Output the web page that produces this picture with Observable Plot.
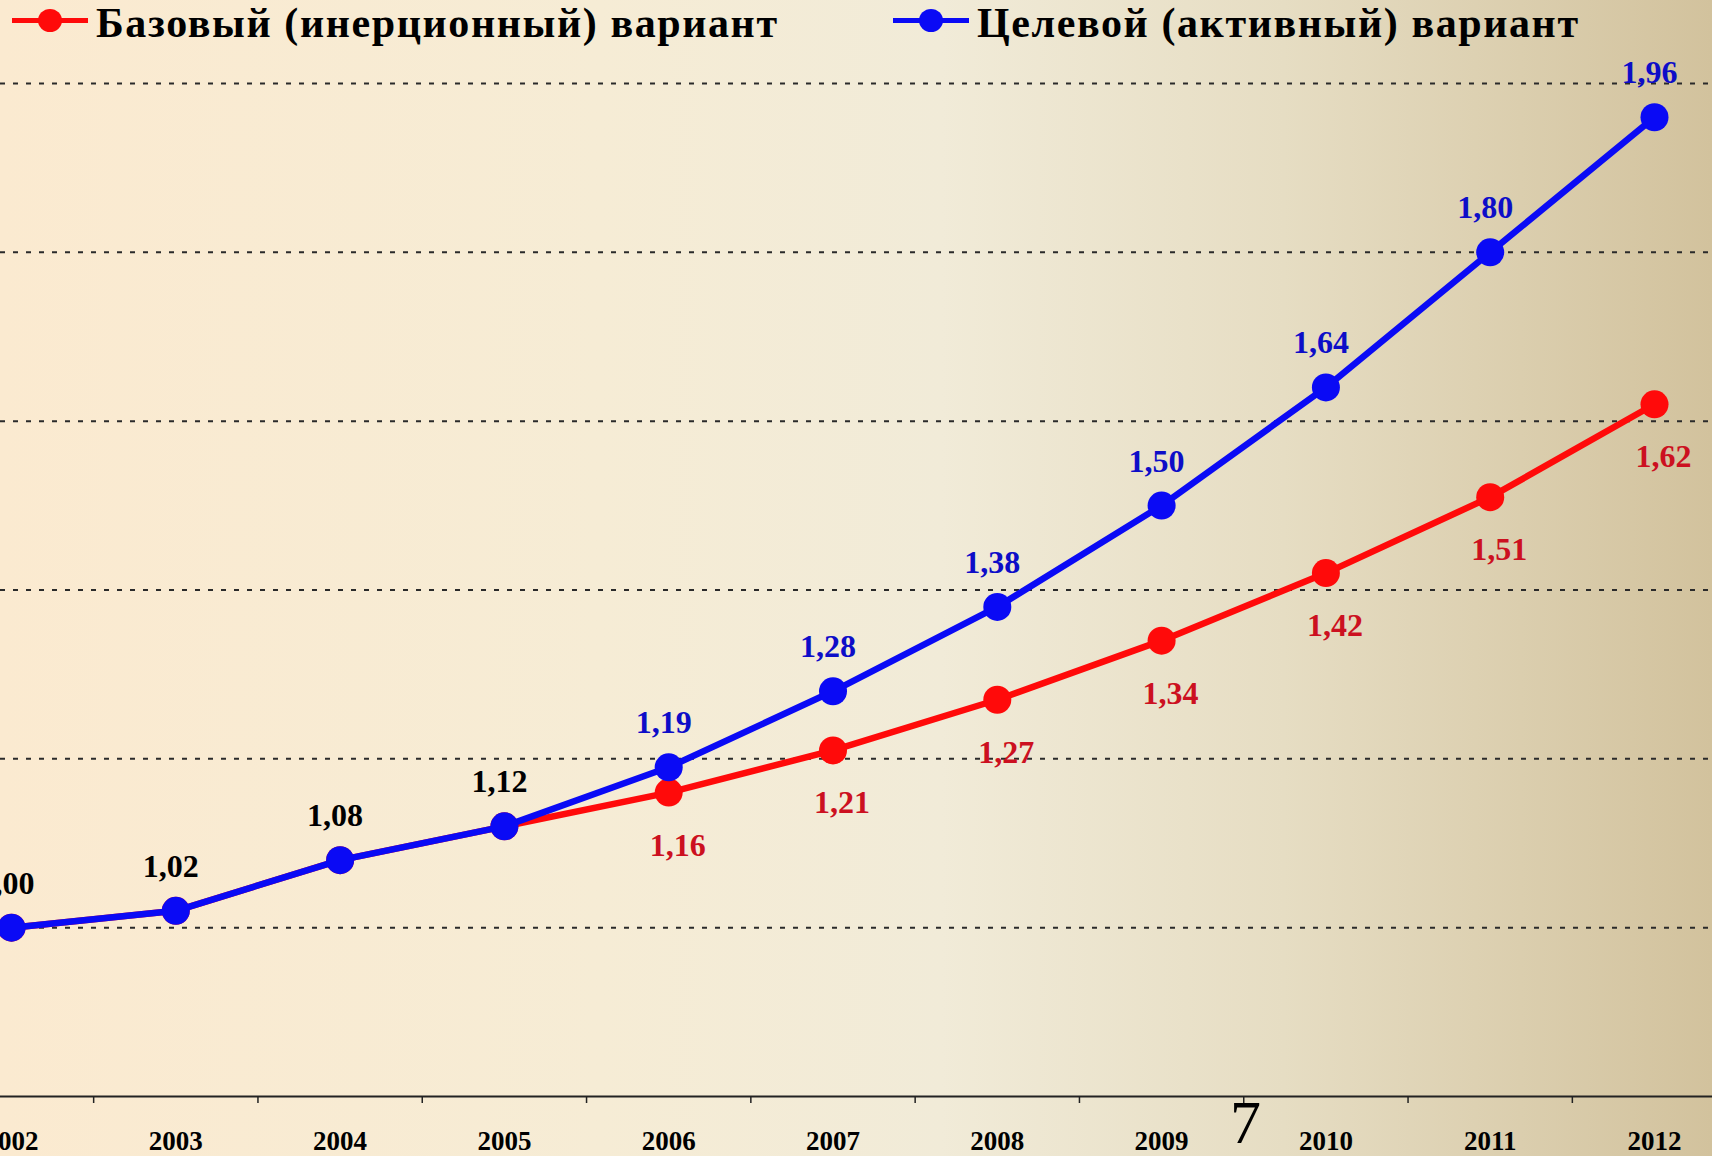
<!DOCTYPE html>
<html>
<head>
<meta charset="utf-8">
<script src="https://cdn.jsdelivr.net/npm/d3@7"></script>
<script src="https://cdn.jsdelivr.net/npm/@observablehq/plot@0.6"></script>
<style>
  html, body { margin: 0; padding: 0; }
  #page {
    position: relative; width: 1712px; height: 1156px; overflow: hidden;
    background: linear-gradient(to right, #fbead0 0%, #f6ecd5 35%, #f1ebd8 55%, #e6ddc3 75%, #d2c29d 100%);
    font-family: "Liberation Serif", "Times New Roman", serif;
  }
  #legend { position: relative; height: 48px; }
  .leg { position: absolute; top: 0; height: 48px; }
  .leg .line { position: absolute; top: 18px; height: 5px; width: 76px; left: 0; }
  .leg .dot { position: absolute; top: 9px; width: 24px; height: 23px; border-radius: 50%; left: 26px; }
  .leg .lab { position: absolute; left: 84px; top: 2px; font-size: 42px; line-height: 42px; letter-spacing: 1.6px; font-weight: bold; color: #000; white-space: nowrap; }
  #pagenum { position: absolute; left: 1230px; top: 1091px; font-size: 62px; line-height: 62px; color: #000; }
</style>
</head>
<body>
<div id="page">
  <div id="legend"></div>
  <div id="chart"></div>
  <div id="pagenum">7</div>
</div>
<script>
const years = [2002, 2003, 2004, 2005, 2006, 2007, 2008, 2009, 2010, 2011, 2012];
const baseValues = [1.00, 1.02, 1.08, 1.12, 1.16, 1.21, 1.27, 1.34, 1.42, 1.51, 1.62];
const targetValues = [1.00, 1.02, 1.08, 1.12, 1.19, 1.28, 1.38, 1.50, 1.64, 1.80, 1.96];
const sharedYears = [2002, 2003, 2004, 2005];
const gridValues = [1.0, 1.2, 1.4, 1.6, 1.8, 2.0];
const seriesNames = ["Базовый (инерционный) вариант", "Целевой (активный) вариант"];
const seriesColors = ["#ff0a0a", "#0a0af5"];
const labelColors = ["#cc1020", "#0d0dc8"];

const base = years.map((year, i) => ({year, value: baseValues[i]}));
const target = years.map((year, i) => ({year, value: targetValues[i]}));
const shared = target.filter(d => sharedYears.includes(d.year));
const baseOwn = base.filter(d => !sharedYears.includes(d.year));
const targetOwn = target.filter(d => !sharedYears.includes(d.year));
const midTicks = years.slice(0, -1).map(y => y + 0.5);
const fmt = d => d3.format(".2f")(d).replace(".", ",");

// legend
const legend = document.getElementById("legend");
[[0, 12], [1, 893]].forEach(([i, left]) => {
  const item = document.createElement("div");
  item.className = "leg";
  item.style.left = left + "px";
  item.innerHTML = `<div class="line" style="background:${seriesColors[i]}"></div>` +
    `<div class="dot" style="background:${seriesColors[i]}"></div>` +
    `<div class="lab">${seriesNames[i]}</div>`;
  legend.appendChild(item);
});

const font = "'Liberation Serif', 'Times New Roman', serif";
const chart = Plot.plot({
  width: 1712,
  height: 1108,
  marginLeft: 0,
  marginRight: 0,
  marginTop: 35,
  marginBottom: 60,
  style: {background: "transparent", fontFamily: font, color: "#000", overflow: "visible"},
  x: {type: "linear", domain: [2001.5, 2012.5], range: [-71.15, 1736.15], axis: null, label: null},
  y: {domain: [0.8, 2.0], axis: null},
  marks: [
    Plot.ruleY(gridValues, {stroke: "#2a2a2a", strokeWidth: 2, strokeDasharray: "5,8"}),
    Plot.ruleY([0.8], {stroke: "#222", strokeWidth: 2}),
    Plot.axisX(midTicks, {anchor: "bottom", label: null, tickSize: 7, strokeWidth: 1.5, stroke: "#222", tickFormat: () => ""}),
    Plot.axisX(years, {anchor: "bottom", label: null, tickSize: 0, tickPadding: 34, tickFormat: d => String(d),
      fontSize: 27, fontWeight: "bold", fill: "#000"}),
    Plot.line(base, {x: "year", y: "value", stroke: seriesColors[0], strokeWidth: 6.5}),
    Plot.dot(base, {x: "year", y: "value", r: 14, fill: seriesColors[0]}),
    Plot.line(target, {x: "year", y: "value", stroke: seriesColors[1], strokeWidth: 6.5}),
    Plot.dot(target, {x: "year", y: "value", r: 14, fill: seriesColors[1]}),
    Plot.text(shared, {x: "year", y: "value", text: d => fmt(d.value), fill: "#000", fontSize: 32,
      fontWeight: "bold", lineAnchor: "bottom", dx: -5, dy: -34}),
    Plot.text(targetOwn, {x: "year", y: "value", text: d => fmt(d.value), fill: labelColors[1], fontSize: 32,
      fontWeight: "bold", lineAnchor: "bottom", dx: -5, dy: -34}),
    Plot.text(baseOwn, {x: "year", y: "value", text: d => fmt(d.value), fill: labelColors[0], fontSize: 32,
      fontWeight: "bold", lineAnchor: "bottom", dx: 9, dy: 63})
  ]
});
document.getElementById("chart").appendChild(chart);
</script>
</body>
</html>
